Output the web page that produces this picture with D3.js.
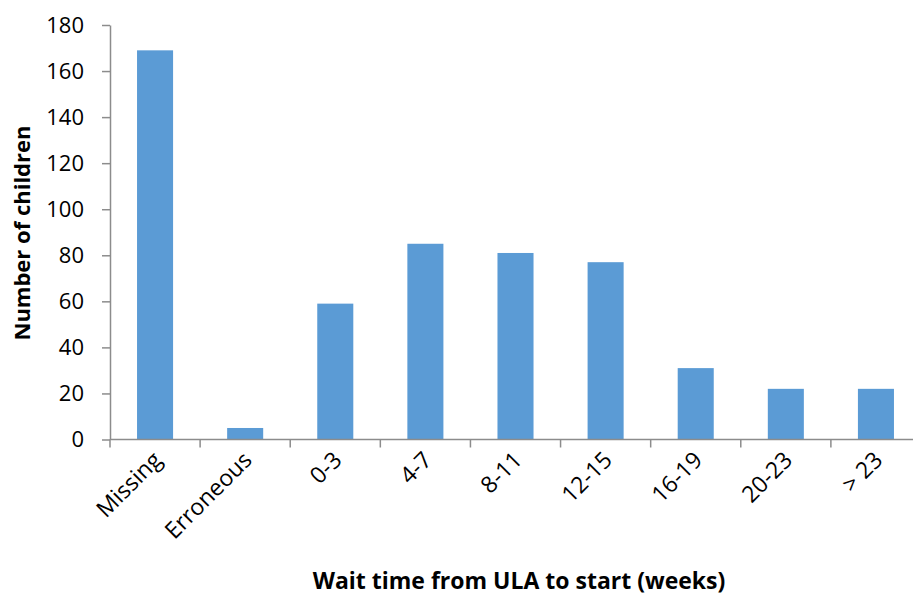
<!DOCTYPE html>
<html>
<head>
<meta charset="utf-8">
<script src="https://cdn.jsdelivr.net/npm/d3@7"></script>
<style>
  html, body { margin: 0; padding: 0; background: #fff; }
  svg { display: block; font-family: "Open Sans", "Liberation Sans", sans-serif; }
</style>
</head>
<body>
<svg id="chart" width="913" height="595"></svg>
<script>
// Wait-time categories and counts of children
const categories = ["Missing", "Erroneous", "0-3", "4-7", "8-11", "12-15", "16-19", "20-23", "> 23"];
const counts = [169, 5, 59, 85, 81, 77, 31, 22, 22];
const yTicks = [0, 20, 40, 60, 80, 100, 120, 140, 160, 180];

const svg = d3.select("#chart");
const margin = { left: 110, top: 25, right: 921, bottom: 439.5 };
const axisColor = "#8c8c8c";
const barColor = "#5B9BD5";

const x = d3.scaleBand().domain(categories).range([margin.left, margin.right]).paddingInner(0.6).paddingOuter(0.3);
const xTicks = d3.scaleBand().domain(categories).range([margin.left, margin.right]);
const y = d3.scaleLinear().domain([0, 180]).range([margin.bottom, margin.top]);

// Bars
svg.append("g").selectAll("rect")
  .data(categories.map((c, i) => ({ c, v: counts[i] })))
  .join("rect")
  .attr("x", d => x(d.c))
  .attr("width", x.bandwidth())
  .attr("y", d => y(d.v))
  .attr("height", d => y(0) - y(d.v))
  .attr("fill", barColor);

// Y axis
const yAxis = svg.append("g").attr("transform", `translate(${margin.left},0)`)
  .call(d3.axisLeft(y).tickValues(yTicks).tickSize(8).tickPadding(18).tickSizeOuter(0));
yAxis.select(".domain").attr("stroke", axisColor).attr("stroke-width", 1.5);
yAxis.selectAll(".tick line").attr("stroke", axisColor).attr("stroke-width", 1.5);
yAxis.selectAll(".tick text").attr("font-size", 22).attr("fill", "#000").attr("font-family", "Open Sans");

// X axis line and boundary ticks between categories
const xAxisG = svg.append("g").attr("transform", `translate(0,${margin.bottom})`);
xAxisG.append("line").attr("x1", margin.left).attr("x2", margin.right).attr("stroke", axisColor).attr("stroke-width", 1.5);
xAxisG.selectAll("line.tk").data(categories).join("line").attr("class", "tk")
  .attr("x1", d => xTicks(d)).attr("x2", d => xTicks(d))
  .attr("y1", 0).attr("y2", 8).attr("stroke", axisColor).attr("stroke-width", 1.5);

// Rotated category labels
svg.append("g").selectAll("text").data(categories).join("text")
  .attr("transform", d => `translate(${xTicks(d) + xTicks.bandwidth() / 2 + 8},${margin.bottom + 22}) rotate(-45)`)
  .attr("text-anchor", "end")
  .attr("font-size", 23)
  .attr("fill", "#000")
  .text(d => d);

// Axis titles
svg.append("text")
  .attr("transform", `translate(30,233) rotate(-90)`)
  .attr("text-anchor", "middle")
  .attr("font-size", 22)
  .attr("font-weight", "bold")
  .attr("fill", "#000")
  .text("Number of children");

svg.append("text")
  .attr("x", 519).attr("y", 589)
  .attr("text-anchor", "middle")
  .attr("font-size", 23)
  .attr("font-weight", "bold")
  .attr("fill", "#000")
  .text("Wait time from ULA to start (weeks)");
</script>
</body>
</html>
